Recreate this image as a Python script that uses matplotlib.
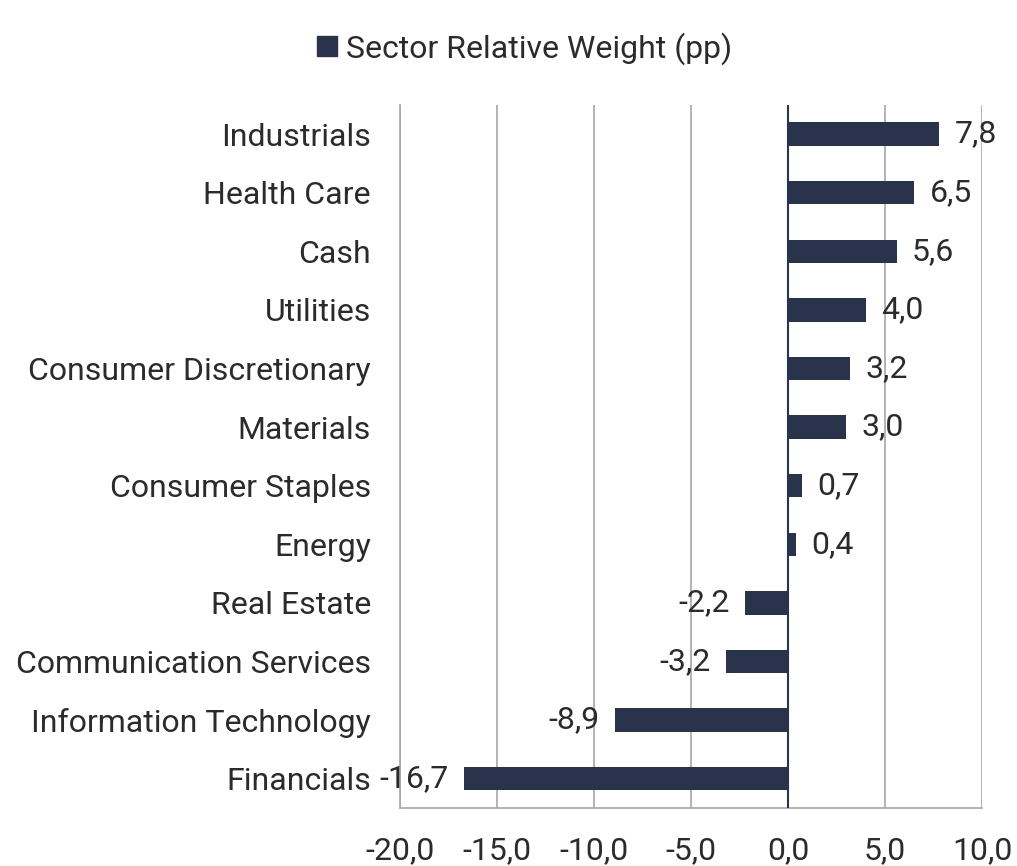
import matplotlib
matplotlib.use("Agg")
import matplotlib.pyplot as plt
from matplotlib.patches import Patch
from matplotlib.ticker import FuncFormatter

sectors = [
    "Industrials", "Health Care", "Cash", "Utilities",
    "Consumer Discretionary", "Materials", "Consumer Staples", "Energy",
    "Real Estate", "Communication Services", "Information Technology",
    "Financials",
]
weights = [7.8, 6.5, 5.6, 4.0, 3.2, 3.0, 0.7, 0.4, -2.2, -3.2, -8.9, -16.7]
x_ticks = [-20, -15, -10, -5, 0, 5, 10]

BAR = "#29334b"
TEXT = "#2b2b2b"
GRID = "#a6a6a6"
FS = 23

plt.rcParams["font.family"] = ["Roboto", "DejaVu Sans"]

fig = plt.figure(figsize=(10.17, 8.66), dpi=100)
ax = fig.add_axes([0.3933, 0.067, 0.5723, 0.812])

pos = list(range(len(sectors)))
ax.barh(pos, weights, height=0.4, color=BAR, zorder=3)
ax.set_ylim(len(sectors) - 0.5, -0.5)
ax.set_xlim(-20, 10)
ax.set_xticks(x_ticks)
ax.xaxis.set_major_formatter(FuncFormatter(lambda v, _: f"{v:.1f}".replace(".", ",")))
ax.set_yticks(pos)
ax.set_yticklabels(sectors)
ax.tick_params(axis="both", length=0, labelsize=FS, colors=TEXT)
ax.tick_params(axis="x", pad=20)
ax.tick_params(axis="y", pad=21)

ax.grid(axis="x", color=GRID, linewidth=1.2, zorder=0)
ax.axvline(0, color=BAR, linewidth=1.5, zorder=4)
for side in ("top", "right"):
    ax.spines[side].set_visible(False)
for side in ("left", "bottom"):
    ax.spines[side].set_color(GRID)
    ax.spines[side].set_linewidth(1.2)

for p, w in zip(pos, weights):
    label = f"{w:.1f}".replace(".", ",")
    off = 11 if w >= 0 else -11
    ax.annotate(label, (w, p), xytext=(off, 0), textcoords="offset points",
                ha="left" if w >= 0 else "right", va="center",
                fontsize=FS, color=TEXT, zorder=5)

handle = Patch(facecolor=BAR, edgecolor=BAR)
fig.legend([handle], ["Sector Relative Weight (pp)"], loc="center",
           bbox_to_anchor=(0.516, 0.944), frameon=False, fontsize=FS,
           handlelength=0.6, handleheight=0.6, handletextpad=0.3,
           labelcolor=TEXT)

fig.savefig("out.png", dpi=100)
